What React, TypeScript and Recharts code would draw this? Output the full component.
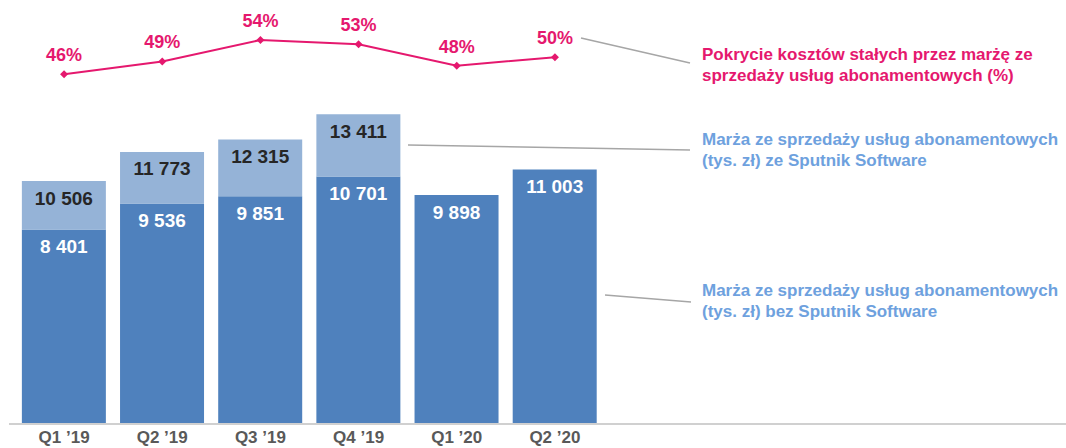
import { ComposedChart, Bar, Line, XAxis, YAxis, LabelList } from "recharts"

const quarters = ["Q1 ’19", "Q2 ’19", "Q3 ’19", "Q4 ’19", "Q1 ’20", "Q2 ’20"]
// margin without Sputnik Software (tys. zł)
const marginBase = [8401, 9536, 9851, 10701, 9898, 11003]
// total margin incl. Sputnik Software (tys. zł)
const marginTotal = [10506, 11773, 12315, 13411, null, null]
// fixed cost coverage (%)
const coverage = [46, 49, 54, 53, 48, 50]

const PINK = "#e5186e"
const BLUE_TEXT = "#6ea1de"
const DARK_BAR = "#4f81bd"
const LIGHT_BAR = "#95b3d7"

const data = quarters.map((name, i) => {
  const total = marginTotal[i]
  return {
    name,
    base: marginBase[i],
    extra: total == null ? null : total - marginBase[i],
    total,
    pct: coverage[i],
  }
})

const fmt = (v: any) => (v == null ? "" : String(v).replace(/\B(?=(\d{3})+(?!\d))/g, " "))

const Diamond = (props: any) => {
  const { cx, cy, index } = props
  if (cx == null || cy == null) return <g key={index} />
  const r = 4
  return <path key={index} d={`M${cx},${cy - r}L${cx + r},${cy}L${cx},${cy + r}L${cx - r},${cy}Z`} fill={PINK} />
}

const noteStyle = {
  position: "absolute" as const,
  left: 702,
  fontSize: 17,
  fontWeight: "bold" as const,
  lineHeight: "21px",
  whiteSpace: "nowrap" as const,
}

export default function App() {
  return (
    <div style={{ position: "absolute", left: 0, top: 0, width: 1066, height: 448, fontFamily: "'Liberation Sans', Arial, sans-serif" }}>
      {/* baseline runs across the whole slide */}
      <div style={{ position: "absolute", left: 9, top: 423, width: 1057, height: 2, background: "#d0d0d0" }} />
      <ComposedChart width={1066} height={448} data={data} margin={{ top: 20, right: 462, bottom: 0, left: 15 }} barCategoryGap="7%">
        <XAxis
          dataKey="name"
          height={25}
          tickLine={false}
          axisLine={false}
          tickMargin={2}
          tick={{ fill: "#595959", fontSize: 17, fontWeight: "bold" }}
        />
        <YAxis yAxisId="val" hide domain={[0, 17500]} />
        <YAxis yAxisId="pct" hide orientation="right" domain={[-35.3, 58.66]} />
        <Bar yAxisId="val" dataKey="base" stackId="a" fill={DARK_BAR} isAnimationActive={false}>
          <LabelList dataKey="base" position="insideTop" offset={10} fill="#ffffff" fontSize={19} fontWeight="bold" formatter={fmt} />
        </Bar>
        <Bar yAxisId="val" dataKey="extra" stackId="a" fill={LIGHT_BAR} isAnimationActive={false}>
          <LabelList dataKey="total" position="insideTop" offset={10} fill="#262626" fontSize={19} fontWeight="bold" formatter={fmt} />
        </Bar>
        <Line
          yAxisId="pct"
          dataKey="pct"
          stroke={PINK}
          strokeWidth={2}
          dot={Diamond}
          activeDot={false}
          isAnimationActive={false}
        >
          <LabelList dataKey="pct" position="top" offset={13} fill={PINK} fontSize={18} fontWeight="bold" formatter={(v: any) => `${v}%`} />
        </Line>
      </ComposedChart>

      <svg width={1066} height={448} style={{ position: "absolute", left: 0, top: 0, pointerEvents: "none" }}>
        <line x1={581} y1={38} x2={690} y2={63} stroke="#a6a6a6" strokeWidth={1.5} />
        <line x1={408} y1={145} x2={690} y2={150} stroke="#a6a6a6" strokeWidth={1.5} />
        <line x1={605} y1={295} x2={691} y2={302} stroke="#a6a6a6" strokeWidth={1.5} />
      </svg>

      <div style={{ ...noteStyle, top: 44, color: PINK }}>
        Pokrycie kosztów stałych przez marżę ze
        <br />
        sprzedaży usług abonamentowych (%)
      </div>
      <div style={{ ...noteStyle, top: 129, color: BLUE_TEXT }}>
        Marża ze sprzedaży usług abonamentowych
        <br />
        (tys. zł) ze Sputnik Software
      </div>
      <div style={{ ...noteStyle, top: 280, color: BLUE_TEXT }}>
        Marża ze sprzedaży usług abonamentowych
        <br />
        (tys. zł) bez Sputnik Software
      </div>
    </div>
  )
}
